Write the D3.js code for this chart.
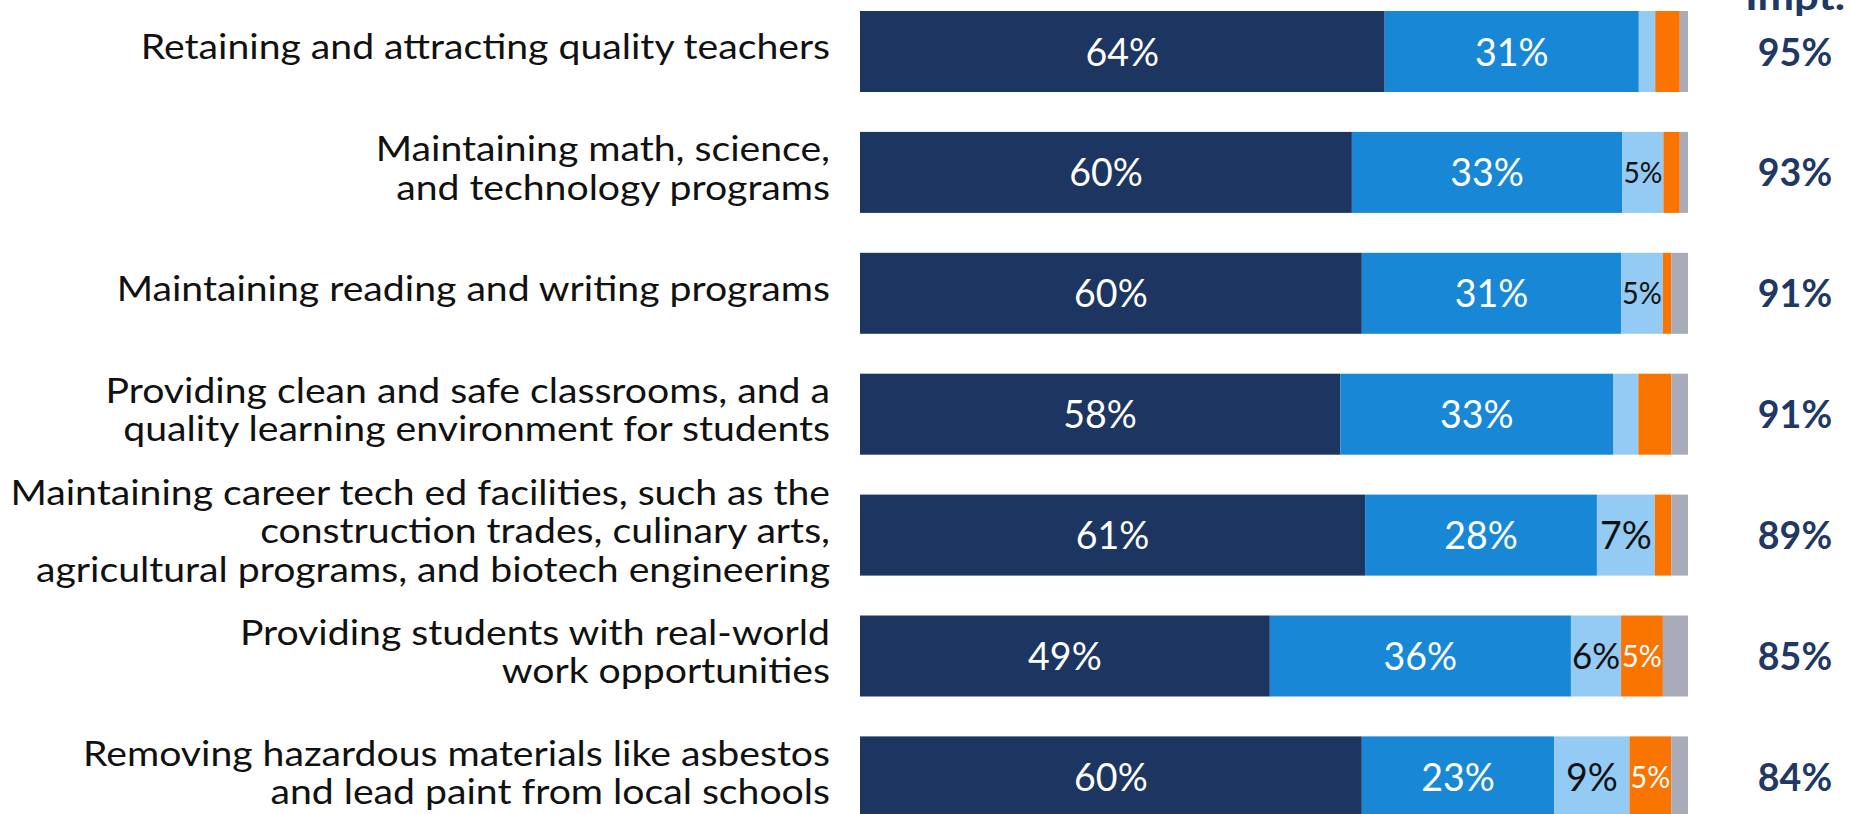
<!DOCTYPE html>
<html>
<head>
<meta charset="utf-8">
<script src="https://cdn.jsdelivr.net/npm/d3@7"></script>
<style>
  html, body { margin: 0; padding: 0; background: #fff; overflow: hidden; }
  svg { display: block; font-family: Lato, "Open Sans", sans-serif; }
</style>
</head>
<body>
<svg id="chart" width="1851" height="814"></svg>
<script>
// categories (each entry = label lines)
const categories = [
  ["Retaining and attracting quality teachers"],
  ["Maintaining math, science,", "and technology programs"],
  ["Maintaining reading and writing programs"],
  ["Providing clean and safe classrooms, and a", "quality learning environment for students"],
  ["Maintaining career tech ed facilities, such as the", "construction trades, culinary arts,", "agricultural programs, and biotech engineering"],
  ["Providing students with real-world", "work opportunities"],
  ["Removing hazardous materials like asbestos", "and lead paint from local schools"]
];

const seriesKeys = ["Extremely important", "Very important", "Somewhat important", "Not important", "Don't know"];
const extremely   = [64, 60, 60, 58, 61, 49, 60];
const very        = [31, 33, 31, 33, 28, 36, 23];
const somewhat    = [2, 5, 5, 3, 7, 6, 9];
const notImportant = [3, 2, 1, 4, 2, 5, 5];
const dontKnow    = [1, 1, 2, 2, 2, 3, 2];
const totalImpt   = [95, 93, 91, 91, 89, 85, 84];
const headerText  = "Impt.";

const colors = ["#1d3661", "#1888d6", "#93cbf4", "#fa7400", "#a9abb9"];
const labelColors = ["#ffffff", "#ffffff", "#111111", "#ffffff", "#111111"];

const svg = d3.select("#chart");
const barLeft = 860, barRight = 1688;
const step = 120.9, barH = 81;
const pad = 1 - barH / step;
const yStart = 11 - step * pad / 2;

const rows = categories.map((c, i) => ({
  idx: i,
  [seriesKeys[0]]: extremely[i],
  [seriesKeys[1]]: very[i],
  [seriesKeys[2]]: somewhat[i],
  [seriesKeys[3]]: notImportant[i],
  [seriesKeys[4]]: dontKnow[i]
}));

const stacked = d3.stack().keys(seriesKeys).offset(d3.stackOffsetExpand)(rows);

const x = d3.scaleLinear().domain([0, 1]).range([barLeft, barRight]);
const y = d3.scaleBand()
  .domain(d3.range(categories.length))
  .range([yStart, yStart + step * categories.length])
  .paddingInner(pad)
  .paddingOuter(pad / 2);

// measure helper to get a horizontal squeeze that mimics the narrow original font
function measure(text, size, weight) {
  const t = svg.append("text").attr("font-size", size).attr("font-weight", weight || 400).text(text);
  const w = t.node().getComputedTextLength();
  t.remove();
  return w;
}
const labelSize = 35;
const widest = d3.max(categories.flat(), s => measure(s, labelSize));
const fx = 820 / widest;
const numFx = fx * 0.86; // digits are narrower in the original font

// bars
const layer = svg.append("g").selectAll("g")
  .data(stacked)
  .join("g")
  .attr("fill", (d, i) => colors[i]);

layer.selectAll("rect")
  .data(d => d)
  .join("rect")
  .attr("x", d => x(d[0]))
  .attr("y", d => y(d.data.idx))
  .attr("width", d => x(d[1]) - x(d[0]))
  .attr("height", y.bandwidth());

// segment labels, shrunk when the segment is narrow
const segSize = 39;
stacked.forEach((s, k) => {
  s.forEach(d => {
    const v = d.data[s.key];
    if (v < 5 || k > 3) return;
    const w = x(d[1]) - x(d[0]);
    const txt = v + "%";
    const tw = measure(txt, segSize) * numFx;
    const size = tw > w - 2 ? segSize * (w - 2) / tw : segSize;
    const cx = (x(d[0]) + x(d[1])) / 2;
    const cy = y(d.data.idx) + y.bandwidth() / 2 + size * 0.36;
    svg.append("g")
      .attr("transform", `translate(${cx},${cy}) scale(${numFx},1)`)
      .append("text")
      .attr("text-anchor", "middle")
      .attr("font-size", size)
      .attr("fill", labelColors[k])
      .text(txt);
  });
});

// category labels
const lineGap = 38.5;
categories.forEach((lines, i) => {
  const cy = y(i) + y.bandwidth() / 2 + 8;
  const g = svg.append("g")
    .attr("transform", `translate(830,0) scale(${fx},1)`);
  lines.forEach((ln, j) => {
    g.append("text")
      .attr("x", 0)
      .attr("y", cy + (j - (lines.length - 1) / 2) * lineGap)
      .attr("text-anchor", "end")
      .attr("font-size", labelSize)
      .attr("fill", "#111")
      .text(ln);
  });
});

// totals column
const colX = 1795;
const totSize = 39;
svg.append("g")
  .attr("transform", `translate(${colX},10) scale(${fx},1)`)
  .append("text")
  .attr("text-anchor", "middle")
  .attr("font-size", totSize)
  .attr("font-weight", 700)
  .attr("fill", "#1f3864")
  .text(headerText);

totalImpt.forEach((t, i) => {
  const cy = y(i) + y.bandwidth() / 2 + totSize * 0.36;
  svg.append("g")
    .attr("transform", `translate(${colX},${cy}) scale(${numFx},1)`)
    .append("text")
    .attr("text-anchor", "middle")
    .attr("font-size", totSize)
    .attr("font-weight", 700)
    .attr("fill", "#1f3864")
    .text(t + "%");
});
</script>
</body>
</html>
